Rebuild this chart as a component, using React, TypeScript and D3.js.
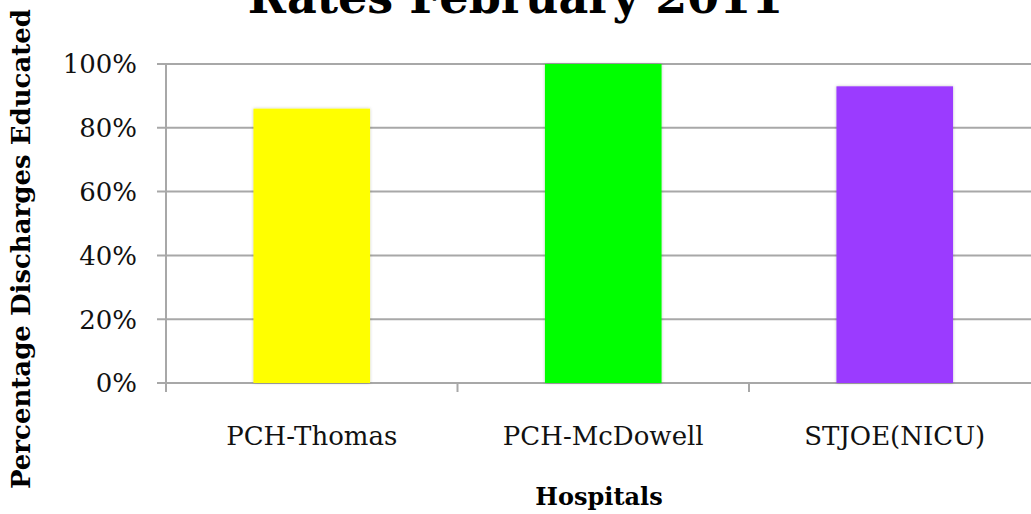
import React from "react";
import * as d3 from "d3";

const hospitals = ["PCH-Thomas", "PCH-McDowell", "STJOE(NICU)"];
const rates = [86, 100, 93];
const barColors = ["#ffff00", "#00ff00", "#9b3bff"];
const yTicks = [0, 20, 40, 60, 80, 100];
const titleText = "Rates February 2011";
const yTitle = "Percentage Discharges Educated";
const xTitle = "Hospitals";

const W = 1031;
const H = 514;
const left = 166;
const right = 1040.5;
const top = 64;
const bottom = 383;
const font = "'DejaVu Serif', serif";

export default function App() {
  const x = d3.scaleBand<string>().domain(hospitals).range([left, right]).paddingInner(0.6).paddingOuter(0.3);
  const xOuter = d3.scaleBand<string>().domain(hospitals).range([left, right]);
  const y = d3.scaleLinear().domain([0, 100]).range([bottom, top]);
  const gridColor = "#a8a8a8";

  return (
    <svg
      width={W}
      height={H}
      viewBox={`0 0 ${W} ${H}`}
      style={{ position: "absolute", left: 0, top: 0, background: "#fff", overflow: "hidden" }}
    >
      <defs>
        <filter id="shadow" x="-10%" y="-10%" width="120%" height="120%">
          <feDropShadow dx="0" dy="0" stdDeviation="1.5" floodColor="#000" floodOpacity="0.25" />
        </filter>
      </defs>
      <rect x={0} y={0} width={W} height={H} fill="#fff" />

      {/* gridlines */}
      {yTicks.map((t) => (
        <g key={t}>
          <line x1={left - 9} x2={W} y1={y(t)} y2={y(t)} stroke={gridColor} strokeWidth={2} />
          <text
            x={137}
            y={y(t)}
            dy="0.36em"
            textAnchor="end"
            fontFamily={font}
            fontSize={26}
            fill="#111"
          >
            {t}%
          </text>
        </g>
      ))}

      {/* y axis line */}
      <line x1={left} x2={left} y1={top} y2={bottom + 9} stroke={gridColor} strokeWidth={2} />

      {/* x category ticks */}
      {hospitals.map((h) => (
        <line
          key={h}
          x1={(xOuter(h) ?? 0) + xOuter.bandwidth()}
          x2={(xOuter(h) ?? 0) + xOuter.bandwidth()}
          y1={bottom}
          y2={bottom + 9}
          stroke={gridColor}
          strokeWidth={2}
        />
      ))}

      {/* bars */}
      {hospitals.map((h, i) => (
        <rect
          key={h}
          x={x(h)}
          y={y(rates[i])}
          width={x.bandwidth()}
          height={bottom - y(rates[i])}
          fill={barColors[i]}
          filter="url(#shadow)"
        />
      ))}

      {/* x labels */}
      {hospitals.map((h) => (
        <text
          key={h}
          x={(xOuter(h) ?? 0) + xOuter.bandwidth() / 2}
          y={445}
          textAnchor="middle"
          fontFamily={font}
          fontSize={26}
          fill="#111"
        >
          {h}
        </text>
      ))}

      {/* titles */}
      <text
        x={W / 2}
        y={13}
        textAnchor="middle"
        fontFamily={font}
        fontWeight="bold"
        fontSize={46}
        fill="#000"
      >
        {titleText}
      </text>
      <text
        x={599}
        y={505}
        textAnchor="middle"
        fontFamily={font}
        fontWeight="bold"
        fontSize={24}
        fill="#000"
      >
        {xTitle}
      </text>
      <text
        transform={`translate(30, 249) rotate(-90)`}
        textAnchor="middle"
        fontFamily={font}
        fontWeight="bold"
        fontSize={26}
        fill="#000"
      >
        {yTitle}
      </text>
    </svg>
  );
}
